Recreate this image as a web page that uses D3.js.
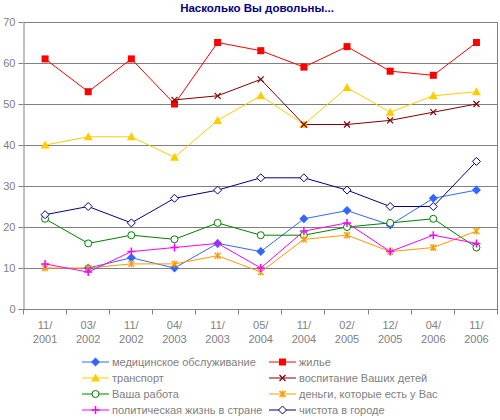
<!DOCTYPE html>
<html>
<head>
    <meta charset="utf-8">
    <title>Насколько Вы довольны...</title>
    <script src="https://d3js.org/d3.v7.min.js"></script>
    <style>
        * { margin: 0; padding: 0; }
        body { background: #fff; width: 500px; height: 420px; overflow: hidden; }
        svg text { font-family: "Liberation Sans", Arial, sans-serif; }
        .tick-label { fill: #808080; font-size: 11px; }
        .legend-label { fill: #808080; font-size: 11px; }
        .title { font-weight: bold; font-size: 11.5px; fill: #000080; }
        .grid line { stroke: #808080; stroke-width: 1; shape-rendering: crispEdges; }
    </style>
</head>
<body>
<div id="chart"></div>
<script>
    // Data
    const periods = ["11/2001", "03/2002", "11/2002", "04/2003", "11/2003", "05/2004",
                     "11/2004", "02/2005", "12/2005", "04/2006", "11/2006"];
    const yTicks = [0, 10, 20, 30, 40, 50, 60, 70];

    const medicine  = [null, 10, 12.5, 10, 16, 14, 22, 24, 20.5, 27, 29];
    const housing   = [61, 53, 61, 50, 65, 63, 59, 64, 58, 57, 65];
    const transport = [40, 42, 42, 37, 46, 52, 45, 54, 48, 52, 53];
    const children  = [null, null, null, 51, 52, 56, 45, 45, 46, 48, 50];
    const work      = [22, 16, 18, 17, 21, 18, 18, 20, 21, 22, 15];
    const money     = [10, 10, 11, 11, 13, 9, 17, 18, 14, 15, 19];
    const politics  = [11, 9, 14, 15, 16, 10, 19, 21, 14, 18, 16];
    const cleanness = [23, 25, 21, 27, 29, 32, 32, 29, 25, 25, 36];

    const series = [
        {name: "медицинское обслуживание", values: medicine, color: "#3366FF", marker: "diamondFilled"},
        {name: "жилье", values: housing, color: "#FF0000", marker: "square"},
        {name: "транспорт", values: transport, color: "#FFCC00", marker: "triangle"},
        {name: "воспитание Ваших детей", values: children, color: "#800000", marker: "cross"},
        {name: "Ваша работа", values: work, color: "#008000", marker: "circle"},
        {name: "деньги, которые есть у Вас", values: money, color: "#FF9900", marker: "star"},
        {name: "политическая жизнь в стране", values: politics, color: "#FF00FF", marker: "plus"},
        {name: "чистота в городе", values: cleanness, color: "#000080", marker: "diamond"}
    ];

    const W = 500, H = 420;
    const plot = {left: 23.5, right: 498, top: 22, bottom: 309};

    const svg = d3.select("#chart").append("svg")
        .attr("width", W)
        .attr("height", H);

    const x = d3.scaleBand()
        .domain(periods)
        .range([plot.left, plot.right])
        .padding(0);

    const y = d3.scaleLinear()
        .domain([0, 70])
        .range([plot.bottom, plot.top]);

    const cx = d => x(d) + x.bandwidth() / 2;

    // Title
    svg.append("text")
        .attr("class", "title")
        .attr("x", 257)
        .attr("y", 12)
        .attr("text-anchor", "middle")
        .text("Насколько Вы довольны...");

    // Gridlines
    svg.append("g")
        .attr("class", "grid")
        .selectAll("line")
        .data(yTicks.filter(t => t > 0))
        .join("line")
        .attr("x1", plot.left)
        .attr("x2", plot.right)
        .attr("y1", d => Math.round(y(d)) + 0.5)
        .attr("y2", d => Math.round(y(d)) + 0.5);

    // Right border of plot area
    svg.append("line")
        .attr("x1", plot.right - 0.5).attr("x2", plot.right - 0.5)
        .attr("y1", Math.round(y(70)) + 0.5).attr("y2", plot.bottom)
        .attr("stroke", "#808080");

    // Y axis
    const yAxis = svg.append("g")
        .attr("transform", `translate(${plot.left},0)`)
        .call(d3.axisLeft(y).tickValues(yTicks).tickSize(5).tickPadding(3)
            .tickSizeOuter(0));
    yAxis.select(".domain").attr("stroke", "#808080");
    yAxis.selectAll(".tick line").attr("stroke", "#808080");
    yAxis.selectAll(".tick text").attr("class", "tick-label").attr("font-size", null)
        .attr("font-family", null);

    // X axis (ticks between categories)
    const xAxis = svg.append("g")
        .attr("transform", `translate(0,${Math.round(y(0)) + 0.5})`);
    xAxis.append("line")
        .attr("x1", plot.left).attr("x2", plot.right)
        .attr("stroke", "#808080");
    const bounds = periods.map(p => x(p)).concat([plot.right]);
    xAxis.selectAll("line.tk")
        .data(bounds)
        .join("line")
        .attr("class", "tk")
        .attr("x1", d => Math.round(d) - 0.5).attr("x2", d => Math.round(d) - 0.5)
        .attr("y1", 0).attr("y2", 5)
        .attr("stroke", "#808080");
    const lbl = xAxis.selectAll("text.tick-label")
        .data(periods)
        .join("text")
        .attr("class", "tick-label")
        .attr("text-anchor", "middle")
        .attr("x", d => cx(d));
    lbl.append("tspan").attr("x", d => cx(d)).attr("y", 19).text(d => d.split("/")[0] + "/");
    lbl.append("tspan").attr("x", d => cx(d)).attr("y", 33).text(d => d.split("/")[1]);

    // Marker drawing
    function drawMarker(g, type, color) {
        switch (type) {
            case "square":
                g.append("rect").attr("x", -3.5).attr("y", -3.5).attr("width", 7).attr("height", 7)
                    .attr("fill", color);
                break;
            case "triangle":
                g.append("path").attr("d", "M0,-4.5L4.5,3.5L-4.5,3.5Z").attr("fill", color);
                break;
            case "diamondFilled":
                g.append("path").attr("d", "M0,-4.5L4.5,0L0,4.5L-4.5,0Z").attr("fill", color);
                break;
            case "diamond":
                g.append("path").attr("d", "M0,-4L4,0L0,4L-4,0Z").attr("fill", "#fff")
                    .attr("stroke", color).attr("stroke-width", 1);
                break;
            case "circle":
                g.append("circle").attr("r", 3.5).attr("fill", "#fff")
                    .attr("stroke", color).attr("stroke-width", 1);
                break;
            case "cross":
                g.append("path").attr("d", "M-3,-3L3,3M3,-3L-3,3")
                    .attr("stroke", color).attr("stroke-width", 1.2).attr("fill", "none");
                break;
            case "plus":
                g.append("path").attr("d", "M-4,0L4,0M0,-4L0,4")
                    .attr("stroke", color).attr("stroke-width", 1.5).attr("fill", "none");
                break;
            case "star":
                g.append("path").attr("d", "M-3,-3L3,3M3,-3L-3,3M0,-3.5L0,3.5")
                    .attr("stroke", color).attr("stroke-width", 1.3).attr("fill", "none");
                break;
        }
    }

    const line = d3.line()
        .defined(d => d.v !== null)
        .x(d => cx(d.p))
        .y(d => y(d.v));

    series.forEach(s => {
        const pts = periods.map((p, i) => ({p: p, v: s.values[i]}));
        svg.append("path")
            .datum(pts)
            .attr("fill", "none")
            .attr("stroke", s.color)
            .attr("stroke-width", 1)
            .attr("d", line);
    });

    series.forEach(s => {
        periods.forEach((p, i) => {
            if (s.values[i] === null) return;
            const g = svg.append("g").attr("transform", `translate(${cx(p)},${y(s.values[i])})`);
            drawMarker(g, s.marker, s.color);
        });
    });

    // Legend
    const legendCols = [82, 269];
    const legendRows = [362, 378, 394, 410];
    series.forEach((s, i) => {
        const lx = legendCols[i % 2];
        const ly = legendRows[Math.floor(i / 2)];
        const g = svg.append("g").attr("transform", `translate(${lx},${ly})`);
        g.append("line").attr("x1", 0).attr("x2", 27).attr("y1", 0).attr("y2", 0)
            .attr("stroke", s.color).attr("stroke-width", 1);
        const m = g.append("g").attr("transform", "translate(13.5,0)");
        drawMarker(m, s.marker, s.color);
        g.append("text")
            .attr("class", "legend-label")
            .attr("x", 30)
            .attr("y", 4)
            .text(s.name);
    });
</script>
</body>
</html>
